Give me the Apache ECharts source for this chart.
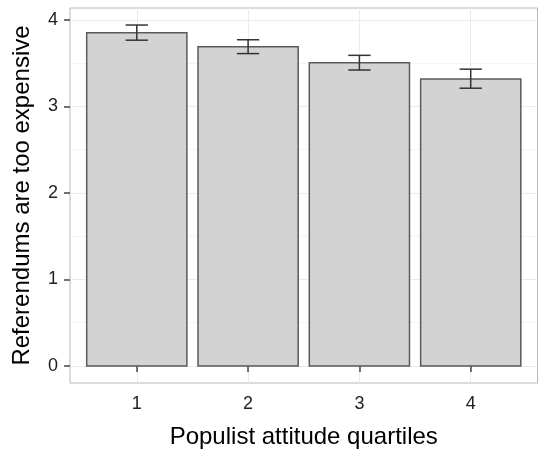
<!DOCTYPE html>
<html>
<head>
<meta charset="utf-8">
<script src="https://cdn.jsdelivr.net/npm/echarts@6/dist/echarts.min.js"></script>
<style>html,body{margin:0;padding:0;background:#fff}#c{width:538px;height:451px}</style>
</head>
<body>
<div id="c"></div>
<script>
var categories = ['1', '2', '3', '4'];
var means = [3.85, 3.69, 3.505, 3.316];
var lower = [3.765, 3.61, 3.42, 3.21];
var upper = [3.94, 3.77, 3.59, 3.43];
var yTicks = [0, 1, 2, 3, 4];
var yMinor = [0.5, 1.5, 2.5, 3.5];

var xPos = categories.map(function (c, i) { return i + 1; });
var barData = xPos.map(function (x, i) { return [x, means[i]]; });
var errData = xPos.map(function (x, i) { return [x, lower[i], upper[i]]; });

var chart = echarts.init(document.getElementById('c'), null, {renderer: 'canvas'});
var font = 'Liberation Sans, Arial, sans-serif';
chart.setOption({
  animation: false,
  grid: {left: 70, right: 0.5, top: 8, bottom: 68, show: true, borderColor: '#b8b8b8', borderWidth: 1,
    backgroundColor: '#fff', containLabel: false, outerBoundsMode: 'none'},
  xAxis: {
    type: 'value', min: 0.4, max: 4.6,
    name: 'Populist attitude quartiles', nameLocation: 'middle', nameGap: 42,
    nameTextStyle: {fontFamily: font, fontSize: 24, color: '#000'},
    axisLine: {show: false},
    axisTick: {show: true, length: 6, customValues: xPos, lineStyle: {color: '#444', width: 1.5}},
    axisLabel: {customValues: xPos, fontFamily: font, fontSize: 18, color: '#222', margin: 12,
      formatter: function (v) { return categories[Math.round(v) - 1]; }},
    splitLine: {show: true, lineStyle: {color: '#ebebeb', width: 1}}
  },
  yAxis: {
    type: 'value', min: -0.197, max: 4.137,
    name: 'Referendums are too expensive', nameLocation: 'middle', nameGap: 36,
    nameTextStyle: {fontFamily: font, fontSize: 24, color: '#000'},
    axisLine: {show: false},
    axisTick: {show: true, length: 6, customValues: yTicks, lineStyle: {color: '#444', width: 1.5}},
    axisLabel: {customValues: yTicks, fontFamily: font, fontSize: 18, color: '#222', margin: 12},
    splitLine: {show: true, lineStyle: {color: '#ebebeb', width: 1}}
  },
  series: [
    {
      type: 'line', data: [], silent: true, z: 0, zlevel: 0,
      markLine: {silent: true, symbol: 'none', label: {show: false}, z: 0,
        lineStyle: {color: '#f4f4f4', width: 1, type: 'solid'},
        data: yMinor.map(function (v) { return {yAxis: v}; })}
    },
    {
      type: 'custom', data: barData, z: 3,
      renderItem: function (params, api) {
        var x = api.value(0), y = api.value(1);
        var tl = api.coord([x - 0.45, y]);
        var br = api.coord([x + 0.45, 0]);
        return {type: 'rect', shape: {x: tl[0], y: tl[1], width: br[0] - tl[0], height: br[1] - tl[1]},
          style: {fill: '#d3d3d3', stroke: '#5a5a5a', lineWidth: 1.5}};
      }
    },
    {
      type: 'custom', data: errData, z: 4,
      renderItem: function (params, api) {
        var x = api.value(0), lo = api.value(1), hi = api.value(2);
        var a = api.coord([x, lo]), b = api.coord([x, hi]);
        var l1 = api.coord([x - 0.1, lo]), r1 = api.coord([x + 0.1, lo]);
        var l2 = api.coord([x - 0.1, hi]), r2 = api.coord([x + 0.1, hi]);
        var st = {stroke: '#333', lineWidth: 1.5};
        return {type: 'group', children: [
          {type: 'line', shape: {x1: a[0], y1: a[1], x2: b[0], y2: b[1]}, style: st},
          {type: 'line', shape: {x1: l1[0], y1: l1[1], x2: r1[0], y2: r1[1]}, style: st},
          {type: 'line', shape: {x1: l2[0], y1: l2[1], x2: r2[0], y2: r2[1]}, style: st}
        ]};
      }
    }
  ]
});
</script>
</body>
</html>
